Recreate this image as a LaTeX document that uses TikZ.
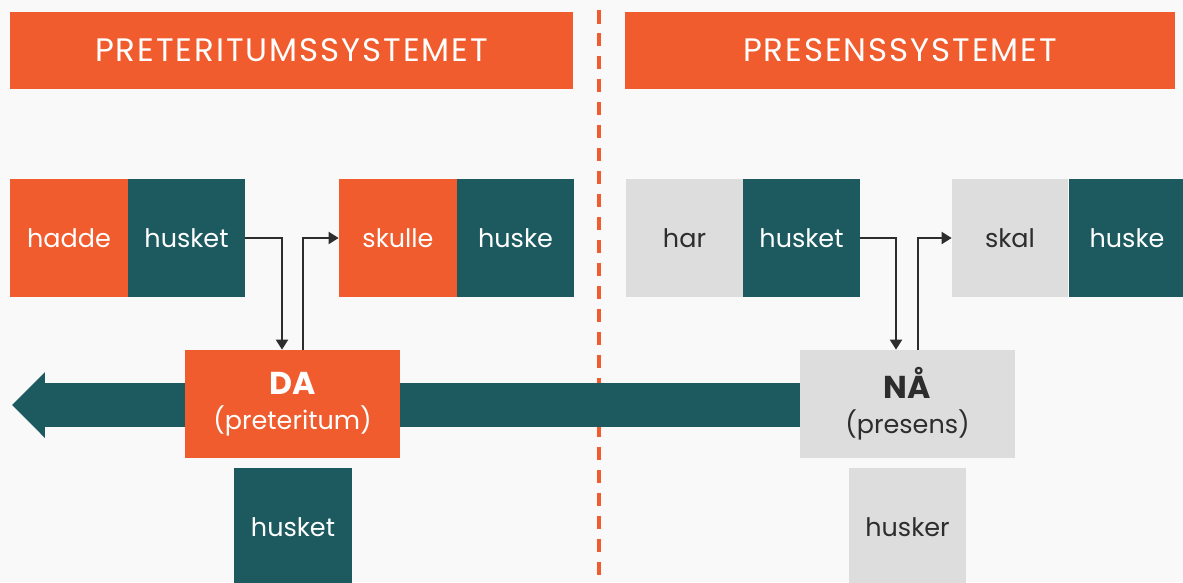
\documentclass[tikz,border=0pt]{standalone}
\usepackage{fontspec}
\setmainfont{Poppins}
\usepackage{xcolor}
\usepackage{tikz}
\usetikzlibrary{arrows.meta, positioning}
\definecolor{myorange}{RGB}{240,92,45}
\definecolor{myteal}{RGB}{28,90,96}
\definecolor{mygrey}{RGB}{221,221,221}
\definecolor{mytext}{RGB}{45,45,45}
\definecolor{mypaper}{RGB}{249,249,249}
\newcommand{\timeword}[1]{{\fontsize{18}{20}\selectfont\bfseries #1}}
\tikzset{
  header/.style={rectangle, fill=myorange, text=white, inner sep=0pt,
    minimum height=1.54cm,
    font=\fontsize{18.5}{20}\selectfont\addfontfeatures{LetterSpace=6}},
  word/.style={rectangle, inner sep=0pt, minimum width=2.34cm,
    minimum height=2.36cm, font=\fontsize{14.5}{17}\selectfont},
  orangeword/.style={word, fill=myorange, text=white},
  tealword/.style={word, fill=myteal, text=white},
  greyword/.style={word, fill=mygrey, text=mytext},
  timebox/.style={rectangle, inner sep=0pt, minimum width=4.32cm,
    minimum height=2.16cm, align=center,
    font=\fontsize{14.5}{20}\selectfont},
  link/.style={-{Triangle[length=0.2cm, width=0.24cm]}, line width=1.1pt,
    color=mytext},
  timeline/.style={line width=0.88cm, color=myteal,
    -{Triangle[length=0.66cm, width=1.28cm]}},
  divider/.style={line width=0.08cm, color=myorange,
    dash pattern=on 0.27cm off 0.19cm}
}
\begin{document}
\begin{tikzpicture}[x=0.02cm, y=-0.02cm]
  \fill[mypaper] (0,0) rectangle (1183,582);
  \useasboundingbox (0,0) rectangle (1183,582);
  % headers
  \node[header, minimum width=11.26cm] (headL) at (291.5,50.5) {PRETERITUMSSYSTEMET};
  \node[header, minimum width=11.0cm] (headR) at (900,50.5) {PRESENSSYSTEMET};
  % divider
  \coordinate (divtop) at (599,10);
  \coordinate (divbot) at (599,582);
  \draw[divider] (divtop) -- (divbot);
  % time line, behind the boxes
  \coordinate (tlstart) at (800,405);
  \coordinate (tltip) at (12,405);
  \draw[timeline] (tlstart) -- (tltip);
  % preteritum
  \node[orangeword, minimum width=2.36cm] (hadde) at (69,238) {hadde};
  \node[tealword] (husketL) at (186.5,238) {husket};
  \node[orangeword, minimum width=2.36cm] (skulle) at (398,238) {skulle};
  \node[tealword] (huskeL) at (515.5,238) {huske};
  \node[timebox, fill=myorange, text=white] (DA) at (292.5,404) {\timeword{DA}\\(preteritum)};
  \node[tealword, minimum width=2.36cm] (husketB) at (293,527) {husket};
  % presens
  \node[greyword] (har) at (684.5,238) {har};
  \node[tealword] (husketR) at (801.5,238) {husket};
  \node[greyword, minimum width=2.32cm] (skal) at (1010,238) {skal};
  \node[tealword] (huskeR) at (1127,238) {huske};
  \node[timebox, fill=mygrey, text=mytext] (NA) at (907.5,404) {\timeword{NÅ}\\(presens)};
  \node[greyword] (huskerB) at (907.5,527) {husker};
  % arrows
  \draw[link] (husketL.east) -| ([xshift=-0.21cm]DA.north);
  \draw[link] ([xshift=0.21cm]DA.north) |- (skulle.west);
  \draw[link] (husketR.east) -| ([xshift=-0.23cm]NA.north);
  \draw[link] ([xshift=0.21cm]NA.north) |- (skal.west);
\end{tikzpicture}
\end{document}
